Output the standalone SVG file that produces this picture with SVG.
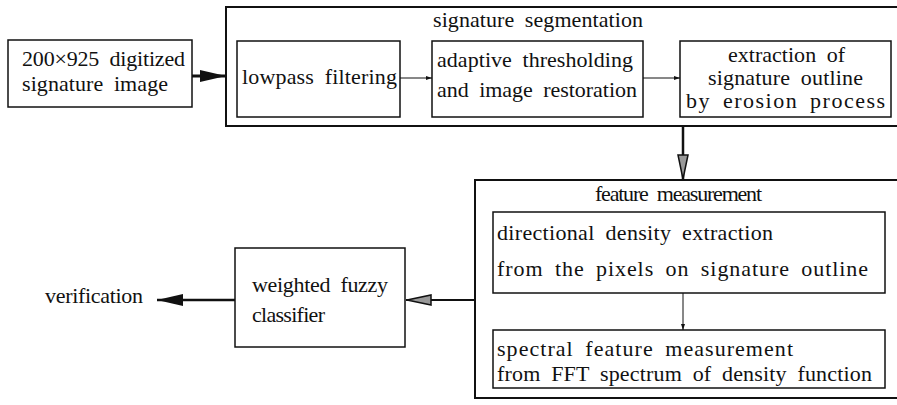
<svg xmlns="http://www.w3.org/2000/svg" width="897" height="405" viewBox="0 0 897 405">
<defs>
<style>
.box{fill:#fff;stroke:#111;stroke-width:1.5}
.outer{fill:none;stroke:#111;stroke-width:2}
.t{font-family:'Liberation Serif','DejaVu Serif','Times New Roman',serif;font-size:22px;word-spacing:5px;fill:#111}
.ln{stroke:#111;fill:none}
</style>
<marker id="hf" viewBox="0 0 26 12" refX="26" refY="6" markerWidth="26" markerHeight="12" markerUnits="userSpaceOnUse" orient="auto"><path d="M0,0 L26,6 L0,12 Z" fill="#111"/></marker>
<marker id="hg" viewBox="0 0 26 12" refX="26" refY="6" markerWidth="26" markerHeight="12" markerUnits="userSpaceOnUse" orient="auto"><path d="M1,1 L25,6 L1,11 Z" fill="#999" stroke="#111" stroke-width="1.5"/></marker>
<marker id="hs" viewBox="0 0 6 6" refX="6" refY="3" markerWidth="6" markerHeight="6" markerUnits="userSpaceOnUse" orient="auto"><path d="M0,1 L6,3 L0,5 Z" fill="#111"/></marker>
</defs>
<rect width="897" height="405" fill="#fff"/>

<g id="connectors">
<line class="ln" x1="192" y1="76" x2="226" y2="76" stroke-width="3" marker-end="url(#hf)"/>
<line class="ln" x1="400" y1="78" x2="432" y2="78" stroke-width="1" marker-end="url(#hs)"/>
<line class="ln" x1="643" y1="78" x2="680" y2="78" stroke-width="1" marker-end="url(#hs)"/>
<line class="ln" x1="683" y1="126" x2="683" y2="180" stroke-width="2.5" marker-end="url(#hg)"/>
<line class="ln" x1="683" y1="293" x2="683" y2="330" stroke-width="1" marker-end="url(#hs)"/>
<line class="ln" x1="475" y1="300" x2="406" y2="300" stroke-width="2.2" marker-end="url(#hg)"/>
<line class="ln" x1="235" y1="300" x2="157" y2="300" stroke-width="2.5" marker-end="url(#hf)"/>
</g>

<g id="input">
<rect class="box" x="8" y="40" width="184" height="67" stroke-width="2"/>
<text class="t" x="22" y="66" textLength="163" lengthAdjust="spacing">200×925 digitized</text>
<text class="t" x="22" y="91" textLength="146" lengthAdjust="spacing">signature image</text>
</g>

<g id="segmentation">
<rect class="outer" x="226" y="7" width="680" height="119"/>
<text class="t" x="433" y="27" textLength="210" lengthAdjust="spacing">signature segmentation</text>
</g>

<g id="lowpass">
<rect class="box" x="237" y="41" width="163" height="76"/>
<text class="t" x="242" y="84" textLength="155" lengthAdjust="spacing">lowpass filtering</text>
</g>

<g id="adaptive">
<rect class="box" x="432" y="41" width="211" height="76"/>
<text class="t" x="437" y="67" textLength="196" lengthAdjust="spacing">adaptive thresholding</text>
<text class="t" x="437" y="97" textLength="200" lengthAdjust="spacing">and image restoration</text>
</g>

<g id="extraction">
<rect class="box" x="680" y="41" width="211" height="76"/>
<text class="t" x="728" y="62" textLength="117" lengthAdjust="spacing">extraction of</text>
<text class="t" x="708" y="85" textLength="155" lengthAdjust="spacing">signature outline</text>
<text class="t" x="686" y="108" textLength="199" lengthAdjust="spacing">by erosion process</text>
</g>

<g id="feature">
<rect class="outer" x="475" y="180" width="430" height="218"/>
<text class="t" x="595" y="201" textLength="167" lengthAdjust="spacing">feature measurement</text>
</g>

<g id="directional">
<rect class="box" x="493" y="212" width="392" height="81"/>
<text class="t" x="497" y="240" textLength="276" lengthAdjust="spacing">directional density extraction</text>
<text class="t" x="497" y="276" textLength="371" lengthAdjust="spacing">from the pixels on signature outline</text>
</g>

<g id="spectral">
<rect class="box" x="493" y="330" width="392" height="58"/>
<text class="t" x="497" y="356" textLength="296" lengthAdjust="spacing">spectral feature measurement</text>
<text class="t" x="497" y="381" textLength="375" lengthAdjust="spacing">from FFT spectrum of density function</text>
</g>

<g id="classifier">
<rect class="box" x="235" y="248" width="170" height="99"/>
<text class="t" x="252" y="292" textLength="136" lengthAdjust="spacing">weighted fuzzy</text>
<text class="t" x="252" y="322" textLength="73" lengthAdjust="spacing">classifier</text>
</g>

<g id="verification">
<text class="t" x="45" y="303" textLength="98" lengthAdjust="spacing">verification</text>
</g>
</svg>
